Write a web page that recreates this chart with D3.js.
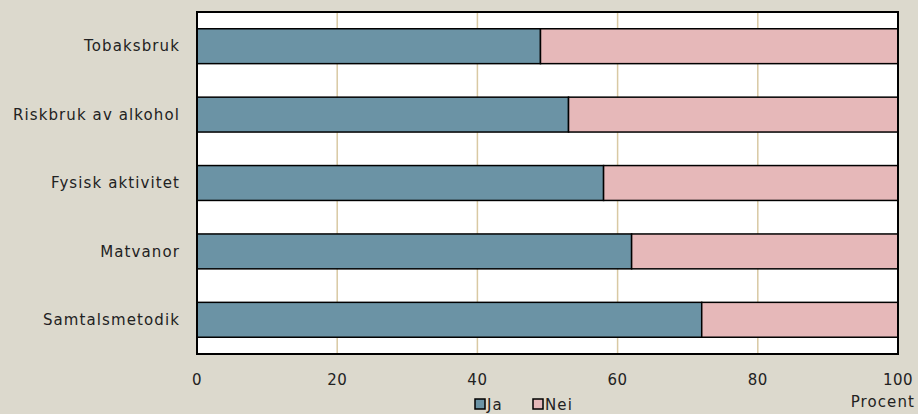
<!DOCTYPE html>
<html><head><meta charset="utf-8">
<script src="https://cdn.jsdelivr.net/npm/d3@7"></script>
<style>body{margin:0;background:#dcd9cd;}svg{display:block;font-family:"DejaVu Sans",sans-serif;}</style>
</head><body>
<svg id="c" width="918" height="414"></svg>
<script>
const categories = ["Tobaksbruk","Riskbruk av alkohol","Fysisk aktivitet","Matvanor","Samtalsmetodik"];
const ja = [49, 53, 58, 62, 72];
const nei = ja.map(v => 100 - v);
const seriesNames = ["Ja","Nei"];
const xTicks = [0,20,40,60,80,100];
const colors = ["#6b93a5","#e6b8b9"];

const svg = d3.select("#c");
const m = {l:197, r:898, t:12, b:354};
const x = d3.scaleLinear().domain([0,100]).range([m.l, m.r]);
const y = d3.scaleBand().domain(categories).range([m.t, m.b]).paddingInner(0.49).paddingOuter(0.245);

svg.append("rect").attr("x",0).attr("y",0).attr("width",918).attr("height",414).attr("fill","#dcd9cd");
svg.append("rect").attr("x",m.l).attr("y",m.t).attr("width",m.r-m.l).attr("height",m.b-m.t).attr("fill","#fff");

svg.append("g").selectAll("line").data(xTicks.slice(1,-1)).join("line")
  .attr("x1",d=>x(d)).attr("x2",d=>x(d)).attr("y1",m.t).attr("y2",m.b)
  .attr("stroke","#d9c9a3").attr("stroke-width",1.5);

const rows = categories.map((c,i)=>({c, vals:[ja[i], nei[i]]}));
rows.forEach(r=>{
  let acc = 0;
  r.vals.forEach((v,k)=>{
    svg.append("rect").attr("x",x(acc)).attr("y",y(r.c)).attr("width",x(acc+v)-x(acc)).attr("height",y.bandwidth())
      .attr("fill",colors[k]).attr("stroke","#000").attr("stroke-width",1.5);
    acc += v;
  });
});

svg.append("rect").attr("x",m.l).attr("y",m.t).attr("width",m.r-m.l).attr("height",m.b-m.t)
  .attr("fill","none").attr("stroke","#000").attr("stroke-width",2);

const T = {size:15, fill:"#222", ls:1.1};
svg.append("g").selectAll("text").data(categories).join("text")
  .attr("x",m.l-17).attr("y",d=>y(d)+y.bandwidth()/2).attr("dy","0.35em")
  .attr("text-anchor","end").attr("font-size",T.size).attr("letter-spacing",T.ls).attr("fill",T.fill).text(d=>d);

svg.append("g").selectAll("text").data(xTicks).join("text")
  .attr("x",d=>x(d)).attr("y",385).attr("text-anchor","middle")
  .attr("font-size",T.size).attr("letter-spacing",0.5).attr("fill",T.fill).text(d=>d);

svg.append("text").attr("x",915).attr("y",407).attr("text-anchor","end").attr("font-size",T.size).attr("letter-spacing",T.ls).attr("fill",T.fill).text("Procent");

const lg = svg.append("g");
const lx = [475, 533];
seriesNames.forEach((n,i)=>{
  lg.append("rect").attr("x",lx[i]).attr("y",399).attr("width",10).attr("height",10)
    .attr("fill",colors[i]).attr("stroke","#000").attr("stroke-width",1.5);
  lg.append("text").attr("x",lx[i]+12).attr("y",410).attr("font-size",T.size).attr("letter-spacing",T.ls).attr("fill",T.fill).text(n);
});
</script>
</body></html>
